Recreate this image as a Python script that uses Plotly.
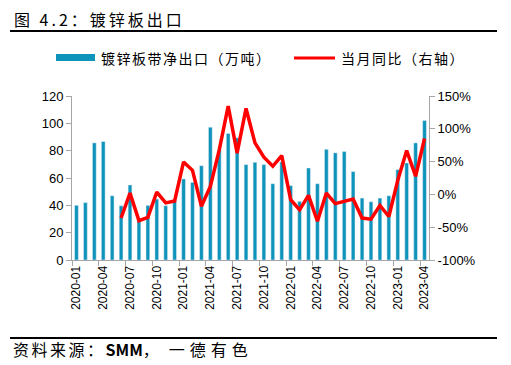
import plotly.graph_objects as go

months = [f"{y}-{m:02d}" for y in (2020, 2021, 2022, 2023) for m in range(1, 13)][:40]

exports = [40, 42, 85.7, 86.7, 47, 39.7, 54.9, 29.4, 40, 44.6, 39.7, 43.6,
           59.3, 56.8, 69, 97.2, 80.8, 92.6, 89.4, 69.8, 71.5, 69.8, 55.8, 71.8,
           54.4, 42.9, 67.3, 55.8, 81, 78.4, 79.4, 64.7, 45.3, 42.6, 45.3, 47,
           66.1, 71, 85.7, 102]

yoy = [None, None, None, None, None, -36, 2, -40, -35, 3.6, -13, -10,
       49.5, 36.7, -18, 12, 68, 134.7, 63, 131, 78.6, 56.6, 42.9, 59.2,
       -8.2, -23.5, -1.5, -41, 2, -14, -10.7, -7, -36, -37.8, -16.8, -33.7,
       21.4, 66.8, 27.6, 85.2]

left_ticks = [0, 20, 40, 60, 80, 100, 120]
right_ticks = [-100, -50, 0, 50, 100, 150]
right_ticktext = [f"{v}%" for v in right_ticks]

title_text = "图 4.2：镀锌板出口"
bar_name = "镀锌板带净出口（万吨）"
line_name = "当月同比（右轴）"
source_parts = ["资料来源：", "SMM", "，", "一德有色"]

BAR = "#0E93BA"
RED = "#FF0000"
GRID = "#A6A6A6"
CJK = "Noto Sans CJK SC"
LAT = "Liberation Sans, Arial"

OFF = 8  # browser body margin
W, H = 511 - OFF, 365 - OFF
PL, PR, PT, PB = 72, 429, 96, 260  # plot area in window pixels

x = list(range(len(months)))
label_idx = list(range(0, len(months), 3))

fig = go.Figure()
fig.add_trace(go.Bar(x=x, y=exports, marker_color=BAR, width=0.42,
                     name=bar_name, showlegend=False))
fig.add_trace(go.Scatter(x=x, y=yoy, yaxis="y2", mode="lines",
                         line=dict(color=RED, width=3.5), name=line_name,
                         showlegend=False, connectgaps=False))
fig.add_trace(go.Scatter(x=[-0.5], y=[None], xaxis="x2", showlegend=False,
                         hoverinfo="skip"))

fig.update_layout(
    width=W, height=H,
    margin=dict(l=PL - OFF, r=W - (PR - OFF), t=PT - OFF, b=H - (PB - OFF), pad=0),
    paper_bgcolor="white", plot_bgcolor="white",
    xaxis=dict(range=[-0.5, 39.5], tickvals=label_idx,
               ticktext=[months[i] for i in label_idx], tickangle=-90,
               showline=True, linecolor=GRID, linewidth=1, ticks="",
               showgrid=False, zeroline=False,
               tickfont=dict(family=LAT, size=12, color="black")),
    xaxis2=dict(range=[-0.5, 39.5], overlaying="x", side="bottom",
                tickvals=[i - 0.5 for i in range(0, 41, 3)], showticklabels=False,
                ticks="outside", ticklen=5, tickcolor=GRID, showgrid=False,
                zeroline=False, showline=False, anchor="y"),
    yaxis=dict(range=[0, 120], tickvals=left_ticks, showline=True, linecolor=GRID,
               ticks="outside", ticklen=5, tickcolor=GRID, showgrid=False,
               zeroline=False, tickfont=dict(family=LAT, size=13, color="black")),
    yaxis2=dict(range=[-100, 150], tickvals=right_ticks, ticktext=right_ticktext,
                overlaying="y", side="right", showline=True, linecolor=GRID,
                ticks="outside", ticklen=5, tickcolor=GRID, showgrid=False,
                zeroline=False, tickfont=dict(family=LAT, size=13, color="black")),
)

def px_x(p):
    return (p - PL) / float(PR - PL)

def px_y(p):
    return (PB - p) / float(PB - PT)

def spaced(t, sp):
    return f'<span style="letter-spacing:{sp}px">{t}</span>'

source_html = (spaced(source_parts[0], 2.5) + "<b>" + source_parts[1] + "</b>"
               + spaced(source_parts[2], 10) + spaced(source_parts[3], 5))

shapes = [
    dict(type="line", xref="paper", yref="paper", x0=px_x(10), x1=px_x(497),
         y0=px_y(31), y1=px_y(31), line=dict(color="black", width=2)),
    dict(type="line", xref="paper", yref="paper", x0=px_x(10), x1=px_x(497),
         y0=px_y(338), y1=px_y(338), line=dict(color="black", width=2)),
    dict(type="rect", xref="paper", yref="paper", x0=px_x(56), x1=px_x(95),
         y0=px_y(61), y1=px_y(54), fillcolor=BAR, line=dict(width=0)),
    dict(type="line", xref="paper", yref="paper", x0=px_x(294), x1=px_x(335),
         y0=px_y(58), y1=px_y(58), line=dict(color=RED, width=3)),
]
annotations = [
    dict(text=spaced(title_text, 3), xref="paper", yref="paper", x=px_x(12), y=px_y(19),
         xanchor="left", yanchor="middle", showarrow=False,
         font=dict(family=CJK, size=16, color="black")),
    dict(text=spaced(bar_name, 1.5), xref="paper", yref="paper", x=px_x(99), y=px_y(58),
         xanchor="left", yanchor="middle", showarrow=False,
         font=dict(family=CJK, size=14, color="black")),
    dict(text=spaced(line_name, 1.5), xref="paper", yref="paper", x=px_x(339), y=px_y(58),
         xanchor="left", yanchor="middle", showarrow=False,
         font=dict(family=CJK, size=14, color="black")),
    dict(text=source_html, xref="paper", yref="paper", x=px_x(11), y=px_y(349),
         xanchor="left", yanchor="middle", showarrow=False,
         font=dict(family=CJK, size=16, color="black")),
]
fig.update_layout(shapes=shapes, annotations=annotations)

fig.write_html("out.html")
